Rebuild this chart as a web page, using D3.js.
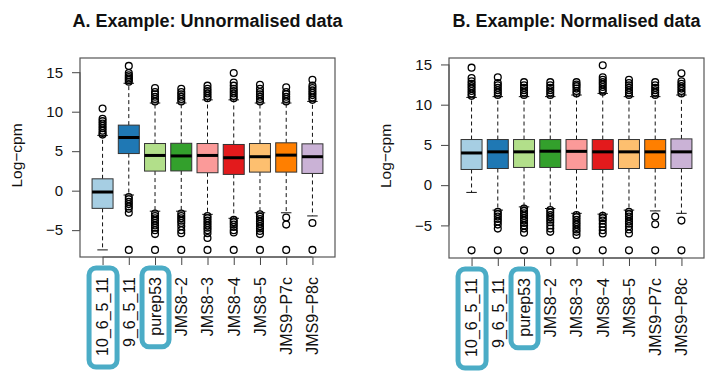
<html lang="en">
<head>
    <title>Log-cpm boxplots</title>
    <meta charset="utf-8">
    <script src="https://cdn.jsdelivr.net/npm/d3@7/dist/d3.min.js"></script>
    <style>
        body { margin: 0; background: #fff; }
        text { font-family: "Liberation Sans", Arial, Helvetica, sans-serif; fill: #111; }
    </style>
</head>
<body></body>

<script type="text/javascript">

    //****************************************************************************************************************************//
    //	Data

    const samples = ["10_6_5_11", "9_6_5_11", "purep53", "JMS8\u22122", "JMS8\u22123", "JMS8\u22124", "JMS8\u22125", "JMS9\u2212P7c", "JMS9\u2212P8c"];
    const boxColours = ["#A6CEE3", "#1F78B4", "#B2DF8A", "#33A02C", "#FB9A99", "#E31A1C", "#FDBF6F", "#FF7F00", "#CAB2D6"];
    const yTicks = [-5, 0, 5, 10, 15];
    const highlighted = ["10_6_5_11", "purep53"];

    // A. unnormalised
    const rawLower = [-7.5, -0.55, -2.6, -2.6, -3.0, -3.5, -2.8, -2.8, -3.2];
    const rawQ1 = [-2.24, 4.7, 2.48, 2.5, 2.27, 2.06, 2.35, 2.35, 2.18];
    const rawMedian = [-0.17, 6.73, 4.46, 4.4, 4.46, 4.17, 4.3, 4.5, 4.3];
    const rawQ3 = [1.5, 8.3, 5.97, 6.0, 5.97, 5.85, 5.97, 6.06, 5.93];
    const rawUpper = [7.0, 13.6, 11.1, 11.1, 11.5, 11.5, 11.1, 11.1, 11.3];
    const rawOutliers = [
        [7.1, 7.3, 7.6, 7.9, 8.2, 8.5, 8.8, 9.1, 10.4],
        [13.8, 14.0, 14.2, 14.4, 14.6, 14.9, 15.8, -0.8, -1.1, -1.4, -1.7, -2.0, -2.3, -2.8, -7.5],
        [11.3, 11.6, 11.9, 12.2, 12.5, 13.0, -2.9, -3.2, -3.5, -3.8, -4.1, -4.4, -4.7, -5.0, -5.5, -7.5],
        [11.3, 11.6, 11.9, 12.2, 12.5, 12.9, -2.9, -3.2, -3.5, -3.8, -4.1, -4.5, -5.0, -5.4, -7.5],
        [11.7, 12.0, 12.3, 12.6, 12.9, 13.3, -3.2, -3.5, -3.8, -4.1, -4.4, -4.7, -5.0, -5.4, -6.0, -7.5],
        [11.7, 12.0, 12.3, 12.6, 12.9, 13.3, 13.7, 14.9, -3.7, -4.0, -4.3, -4.6, -5.0, -5.3, -7.5],
        [11.3, 11.6, 11.9, 12.2, 12.5, 12.9, 13.4, -3.0, -3.3, -3.6, -3.9, -4.2, -4.5, -4.8, -5.1, -5.5, -7.5],
        [11.3, 11.6, 11.9, 12.2, 12.5, 13.1, -3.4, -4.3, -7.5],
        [11.5, 11.8, 12.1, 12.4, 12.7, 13.0, 13.3, 14.05, -4.1, -7.5]
    ];

    // B. normalised
    const normLower = [-0.9, -3.1, -2.7, -2.9, -3.5, -3.6, -3.1, -3.2, -3.5];
    const normQ1 = [1.95, 2.07, 2.2, 2.2, 1.95, 1.95, 2.07, 2.07, 2.07];
    const normMedian = [4.0, 4.14, 4.14, 4.22, 4.2, 4.14, 4.14, 4.14, 4.14];
    const normQ3 = [5.67, 5.67, 5.67, 5.67, 5.67, 5.67, 5.67, 5.67, 5.75];
    const normUpper = [10.9, 11.0, 11.0, 11.0, 11.2, 11.4, 11.0, 11.0, 11.2];
    const normOutliers = [
        [11.1, 11.4, 11.7, 12.0, 12.3, 12.6, 12.9, 13.3, 14.6, -8.1],
        [11.2, 11.5, 11.8, 12.1, 12.4, 12.7, 13.4, -3.3, -3.6, -3.9, -4.2, -4.5, -4.9, -5.4, -8.1],
        [11.2, 11.5, 11.8, 12.1, 12.4, 12.8, -2.9, -3.2, -3.5, -3.8, -4.1, -4.4, -4.7, -5.0, -5.4, -5.9, -8.1],
        [11.2, 11.5, 11.8, 12.1, 12.4, 12.8, -3.1, -3.4, -3.7, -4.0, -4.3, -4.6, -5.0, -5.4, -5.8, -8.1],
        [11.4, 11.7, 12.0, 12.3, 12.5, 12.8, -3.7, -4.0, -4.3, -4.6, -4.9, -5.2, -5.5, -5.8, -6.2, -8.1],
        [11.6, 11.9, 12.2, 12.5, 12.8, 13.1, 13.4, 14.9, -3.8, -4.1, -4.4, -4.8, -5.2, -5.6, -6.0, -8.1],
        [11.2, 11.5, 11.8, 12.1, 12.4, 12.7, 13.1, -3.3, -3.6, -3.9, -4.2, -4.5, -4.8, -5.1, -5.5, -6.0, -8.1],
        [11.2, 11.5, 11.8, 12.1, 12.4, 12.8, -3.9, -4.85, -8.1],
        [11.4, 11.7, 12.0, 12.3, 12.6, 12.9, 13.9, -4.4, -8.1]
    ];

    //****************************************************************************************************************************//
    //	Svg

    const svg = d3.select("body")
        .append("svg")
        .attr("width", 720)
        .attr("height", 373);

    const panels = [
        {
            title: "A. Example: Unnormalised data",
            left: 80, right: 335, top: 58, bottom: 257, yDomain: [-8.4, 16.8],
            lower: rawLower, q1: rawQ1, median: rawMedian, q3: rawQ3, upper: rawUpper, outliers: rawOutliers
        },
        {
            title: "B. Example: Normalised data",
            left: 449, right: 704, top: 58, bottom: 258, yDomain: [-9.05, 15.8],
            lower: normLower, q1: normQ1, median: normMedian, q3: normQ3, upper: normUpper, outliers: normOutliers
        }
    ];

    panels.forEach(drawPanel);

    function drawPanel(p) {
        const g = svg.append("g");

        const x = d3.scaleLinear().domain([0.14, samples.length + 0.86]).range([p.left, p.right]);
        const y = d3.scaleLinear().domain(p.yDomain).range([p.bottom, p.top]);
        const boxW = (x(1.8) - x(1));
        const stapleW = boxW / 2;

        // title
        g.append("text")
            .attr("x", (p.left + p.right) / 2)
            .attr("y", 27)
            .attr("text-anchor", "middle")
            .style("font-size", "18px")
            .style("font-weight", "bold")
            .text(p.title);

        // y axis
        const yAxis = g.append("g")
            .attr("transform", `translate(${p.left},0)`)
            .call(d3.axisLeft(y).tickValues(yTicks).tickSize(8).tickPadding(9).tickFormat(d => d < 0 ? "\u2212" + Math.abs(d) : d));
        yAxis.select(".domain").attr("d", `M0,${y(yTicks[0])}V${y(yTicks[yTicks.length - 1])}`).attr("stroke", "#444");
        yAxis.selectAll(".tick line").attr("stroke", "#444");
        yAxis.selectAll(".tick text").style("font-size", "15px").attr("fill", "#111");

        g.append("text")
            .attr("transform", `translate(${p.left - 58},${(p.top + p.bottom) / 2 - 2}) rotate(-90)`)
            .attr("text-anchor", "middle")
            .style("font-size", "15.5px")
            .text("Log\u2212cpm");

        // x axis
        const xAxis = g.append("g")
            .attr("transform", `translate(0,${p.bottom})`)
            .call(d3.axisBottom(x).tickValues(d3.range(1, samples.length + 1)).tickSize(8).tickFormat(d => samples[d - 1]));
        xAxis.select(".domain").attr("d", `M${x(1)},0H${x(samples.length)}`).attr("stroke", "#444");
        xAxis.selectAll(".tick line").attr("stroke", "#444");
        xAxis.selectAll(".tick text")
            .style("font-size", "16px")
            .attr("fill", "#111")
            .attr("text-anchor", "end")
            .attr("dy", "0.33em")
            .attr("y", 0)
            .attr("transform", "translate(0,20) rotate(-90)");

        // highlight rounded boxes round some labels
        xAxis.selectAll(".tick")
            .filter(d => highlighted.includes(samples[d - 1]))
            .each(function (d) {
                const bb = d3.select(this).select("text").node().getBBox();
                // bbox is in the rotated frame: its width runs down the page
                const h = bb.width, w = bb.height;
                g.append("rect")
                    .attr("x", x(d) - w / 2 - 4.5)
                    .attr("y", p.bottom + 20 - 9)
                    .attr("width", w + 10)
                    .attr("height", h + 20)
                    .attr("rx", 7)
                    .attr("fill", "none")
                    .attr("stroke", "#4BACC6")
                    .attr("stroke-width", 5);
            });

        // boxes
        const idx = d3.range(samples.length);
        const box = g.append("g").selectAll("g").data(idx).join("g");

        box.append("line")
            .attr("x1", i => x(i + 1)).attr("x2", i => x(i + 1))
            .attr("y1", i => y(p.q3[i])).attr("y2", i => y(p.upper[i]))
            .attr("stroke", "#111").attr("stroke-dasharray", "4,3");
        box.append("line")
            .attr("x1", i => x(i + 1)).attr("x2", i => x(i + 1))
            .attr("y1", i => y(p.q1[i])).attr("y2", i => y(p.lower[i]))
            .attr("stroke", "#111").attr("stroke-dasharray", "4,3");
        box.append("line")
            .attr("x1", i => x(i + 1) - stapleW / 2).attr("x2", i => x(i + 1) + stapleW / 2)
            .attr("y1", i => y(p.upper[i])).attr("y2", i => y(p.upper[i]))
            .attr("stroke", "#111");
        box.append("line")
            .attr("x1", i => x(i + 1) - stapleW / 2).attr("x2", i => x(i + 1) + stapleW / 2)
            .attr("y1", i => y(p.lower[i])).attr("y2", i => y(p.lower[i]))
            .attr("stroke", "#111");
        box.append("rect")
            .attr("x", i => x(i + 1) - boxW / 2)
            .attr("y", i => y(p.q3[i]))
            .attr("width", boxW)
            .attr("height", i => y(p.q1[i]) - y(p.q3[i]))
            .attr("fill", i => boxColours[i])
            .attr("stroke", "#333");
        box.append("line")
            .attr("x1", i => x(i + 1) - boxW / 2).attr("x2", i => x(i + 1) + boxW / 2)
            .attr("y1", i => y(p.median[i])).attr("y2", i => y(p.median[i]))
            .attr("stroke", "#000").attr("stroke-width", 3);

        box.selectAll("circle")
            .data(i => p.outliers[i].map(v => ({i, v})))
            .join("circle")
            .attr("cx", d => x(d.i + 1))
            .attr("cy", d => y(d.v))
            .attr("r", 3.4)
            .attr("fill", "none")
            .attr("stroke", "#000")
            .attr("stroke-width", 1.3);

        // frame
        g.append("rect")
            .attr("x", p.left).attr("y", p.top)
            .attr("width", p.right - p.left).attr("height", p.bottom - p.top)
            .attr("fill", "none")
            .attr("stroke", "#555")
            .attr("stroke-width", 1.2);
    }

</script>
</html>
